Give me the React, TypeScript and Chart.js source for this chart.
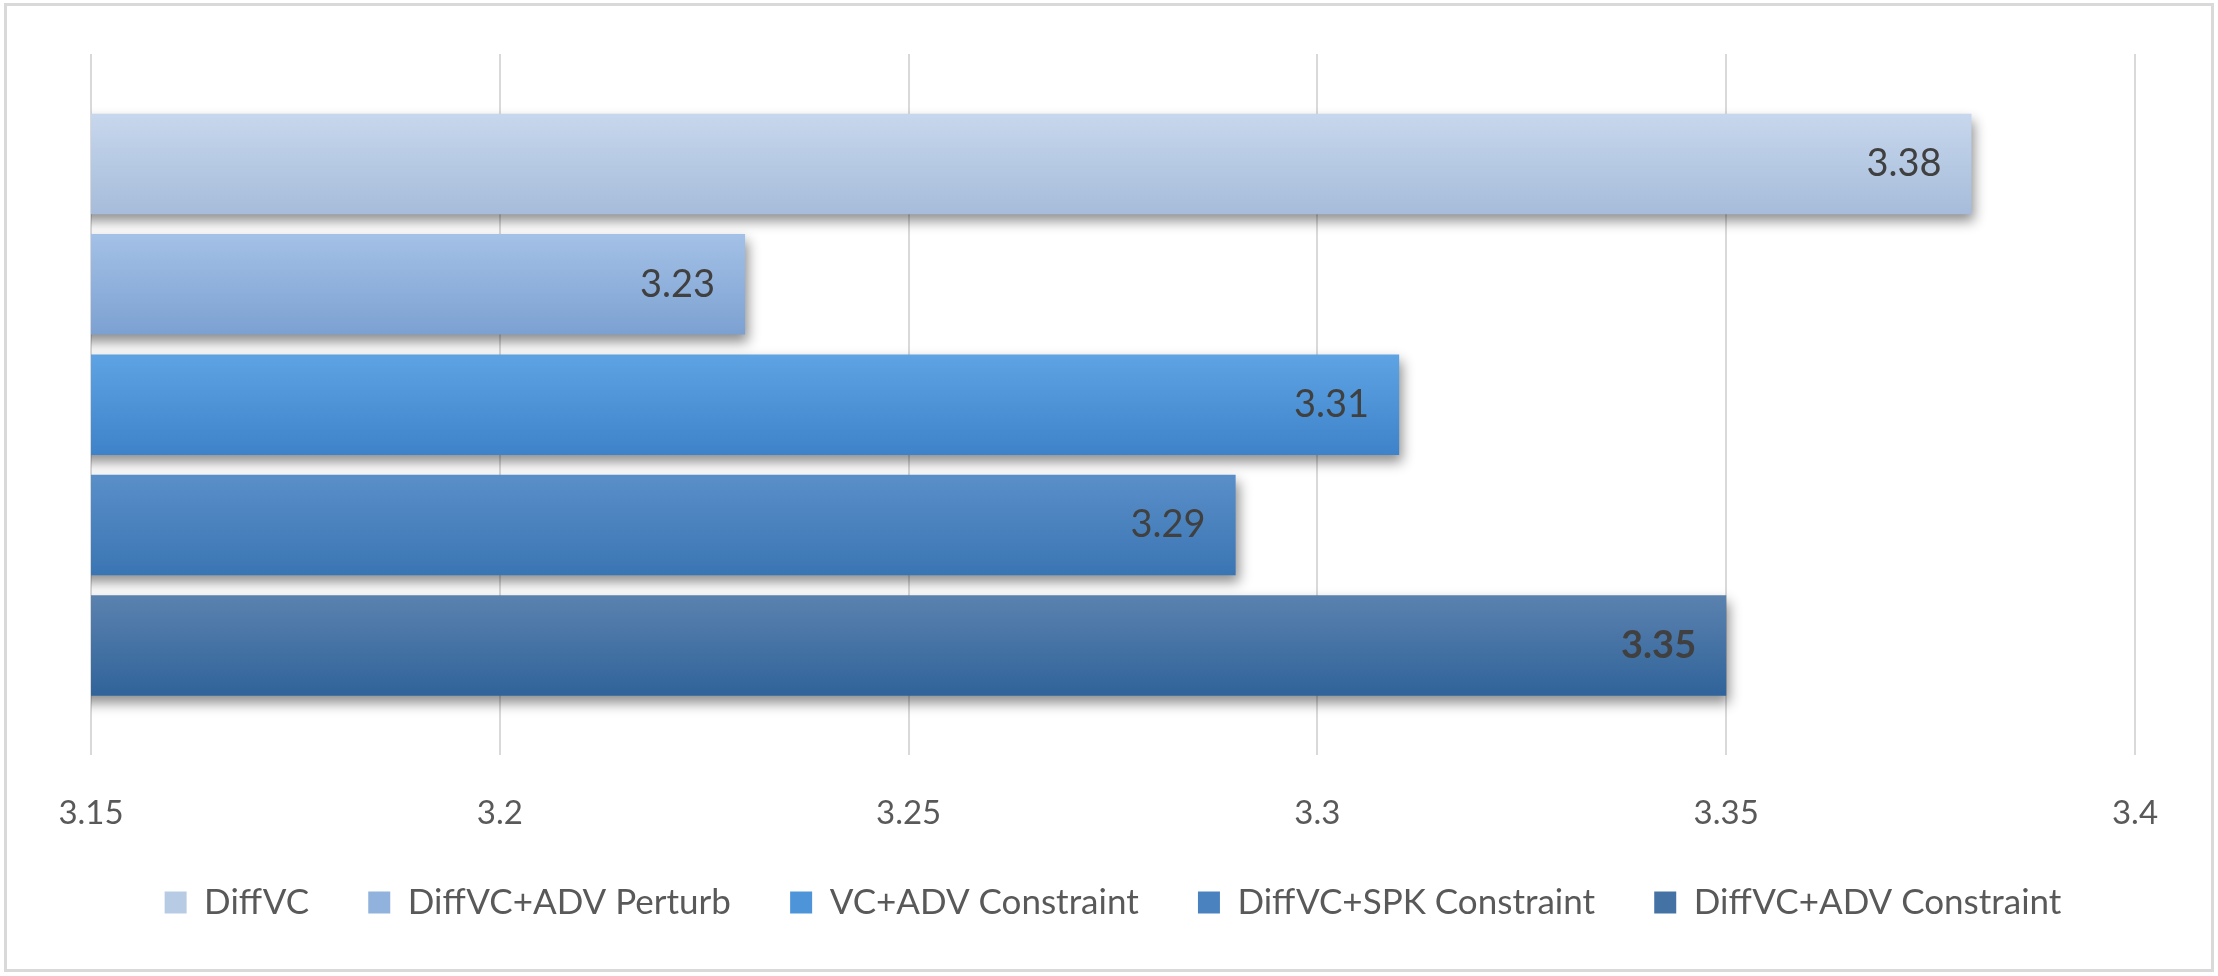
import React, { useEffect, useRef } from "react";
import { Chart, registerables } from "chart.js";

Chart.register(...registerables);

const categories = [""];
const seriesNames = [
  "DiffVC",
  "DiffVC+ADV Perturb",
  "VC+ADV Constraint",
  "DiffVC+SPK Constraint",
  "DiffVC+ADV Constraint",
];
const seriesValues = [3.38, 3.23, 3.31, 3.29, 3.35];
const seriesTopColors = ["#C7D7ED", "#A4C1E7", "#5EA3E3", "#5A8FC9", "#5B82AF"];
const seriesBottomColors = ["#A6BCDA", "#7CA1D1", "#3E83C9", "#3A75B3", "#30639A"];
const seriesMidColors = ["#B8CBE5", "#91B2DD", "#4D94D8", "#4A82BF", "#4572A5"];
const xTicks = [3.15, 3.2, 3.25, 3.3, 3.35, 3.4];
const xTickLabels = ["3.15", "3.2", "3.25", "3.3", "3.35", "3.4"];
const boldLabel = [false, false, false, false, true];

const FONT = "Lato, 'Open Sans', sans-serif";
const TICK_PAD = 33;
const TICK_SIZE = 33;

const decorPlugin = {
  id: "decor",
  beforeDraw(chart: any) {
    const ctx = chart.ctx;
    ctx.save();
    ctx.fillStyle = "#FFFFFF";
    ctx.fillRect(0, 0, chart.width, chart.height);
    ctx.strokeStyle = "#D9D9D9";
    ctx.lineWidth = 3;
    ctx.strokeRect(5.5, 4.5, 2207, 966);
    ctx.restore();
  },
  beforeDatasetsDraw(chart: any) {
    const ctx = chart.ctx;
    chart.data.datasets.forEach((_ds: any, i: number) => {
      const meta = chart.getDatasetMeta(i);
      meta.data.forEach((el: any) => {
        const { y, height } = el.getProps(["y", "height"], true);
        const g = ctx.createLinearGradient(0, y - height / 2, 0, y + height / 2);
        g.addColorStop(0, seriesTopColors[i]);
        g.addColorStop(1, seriesBottomColors[i]);
        el.options = Object.assign({}, el.options, { backgroundColor: g });
      });
    });
    ctx.save();
    ctx.shadowColor = "rgba(0,0,0,0.45)";
    ctx.shadowBlur = 12;
    ctx.shadowOffsetX = 3;
    ctx.shadowOffsetY = 7;
  },
  afterDatasetsDraw(chart: any) {
    const ctx = chart.ctx;
    ctx.restore();
    ctx.save();
    ctx.textAlign = "right";
    ctx.textBaseline = "middle";
    chart.data.datasets.forEach((ds: any, i: number) => {
      const meta = chart.getDatasetMeta(i);
      meta.data.forEach((el: any, j: number) => {
        const { x, y } = el.getProps(["x", "y"], true);
        ctx.font = `${boldLabel[i] ? "bold " : ""}38px ${FONT}`;
        ctx.fillStyle = "#404040";
        ctx.fillText(String(ds.data[j]), x - 30, y);
      });
    });
    ctx.restore();
  },
  afterDraw(chart: any) {
    const ctx = chart.ctx;
    const scale = chart.scales.x;
    ctx.save();
    ctx.font = `${TICK_SIZE}px ${FONT}`;
    ctx.fillStyle = "#595959";
    ctx.textAlign = "center";
    ctx.textBaseline = "middle";
    const y = scale.top + TICK_PAD + 25;
    xTicks.forEach((v, i) => {
      ctx.fillText(xTickLabels[i], scale.getPixelForValue(v), y);
    });
    ctx.restore();
  },
};

export default function App() {
  const ref = useRef<HTMLCanvasElement | null>(null);
  useEffect(() => {
    if (!ref.current) return;
    const chart = new Chart(ref.current, {
      type: "bar",
      data: {
        labels: categories,
        datasets: seriesNames.map((name, i) => ({
          label: name,
          data: [seriesValues[i]],
          backgroundColor: seriesMidColors[i],
          borderWidth: 0,
          barPercentage: 0.835,
          categoryPercentage: 0.858,
        })),
      },
      options: {
        indexAxis: "y",
        animation: false,
        responsive: true,
        maintainAspectRatio: false,
        devicePixelRatio: 1,
        layout: { padding: { left: 91, right: 83, top: 54, bottom: 46 } },
        scales: {
          x: {
            type: "linear",
            min: 3.15,
            max: 3.4,
            afterBuildTicks: (axis: any) => {
              axis.ticks = xTicks.map((v) => ({ value: v }));
            },
            ticks: {
              padding: TICK_PAD,
              maxRotation: 0,
              minRotation: 0,
              autoSkip: false,
              color: "rgba(0,0,0,0)",
              font: { family: FONT, size: TICK_SIZE },
              callback: (_v: any, i: number) => xTickLabels[i],
            },
            grid: { color: "#D9D9D9", lineWidth: 2, drawTicks: false },
            border: { display: false },
          },
          y: {
            type: "category",
            display: false,
          },
        },
        plugins: {
          tooltip: { enabled: false },
          legend: {
            display: true,
            position: "bottom",
            labels: {
              boxWidth: 22,
              boxHeight: 22,
              padding: 24,
              color: "#595959",
              font: { family: FONT, size: 35 },
              generateLabels: (chart: any) => {
                const items = Chart.defaults.plugins.legend.labels.generateLabels(chart);
                return items.map((it: any, i: number) => ({
                  ...it,
                  text: i < items.length - 1 ? it.text + "\u2003 " : it.text,
                  lineWidth: 0,
                }));
              },
            },
          },
        },
      },
      plugins: [decorPlugin],
    } as any);
    return () => chart.destroy();
  }, []);
  return (
    <div style={{ position: "fixed", left: 0, top: 0, width: 2218, height: 976 }}>
      <canvas ref={ref} />
    </div>
  );
}
